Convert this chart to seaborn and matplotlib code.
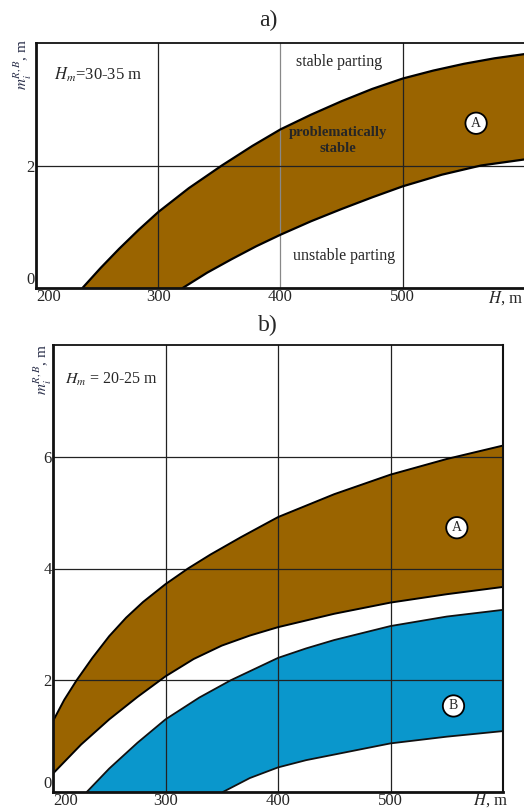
import numpy as np
import matplotlib
matplotlib.use("Agg")
import matplotlib.pyplot as plt
import seaborn as sns

# panel a) H_m = 30-35 m
a_upper_H = [238, 253, 268, 284, 300, 325, 352, 377, 400, 425, 450, 475, 500, 525, 550, 575, 600]
a_upper_m = [0.0, 0.33, 0.64, 0.95, 1.24, 1.63, 2.0, 2.32, 2.59, 2.83, 3.05, 3.25, 3.42, 3.55, 3.66, 3.75, 3.82]
a_lower_H = [320, 340, 360, 380, 400, 425, 450, 475, 500, 532, 564, 600]
a_lower_m = [0.0, 0.25, 0.47, 0.68, 0.87, 1.09, 1.29, 1.48, 1.66, 1.85, 2.0, 2.1]

# panel b) H_m = 20-25 m, zone A (brown)
bA_upper_H = [200, 210, 221, 235, 250, 265, 280, 300, 320, 340, 367, 400, 450, 500, 550, 600]
bA_upper_m = [1.27, 1.65, 2.0, 2.4, 2.79, 3.12, 3.4, 3.72, 4.0, 4.25, 4.56, 4.92, 5.33, 5.68, 5.96, 6.2]
bA_lower_H = [200, 225, 250, 275, 300, 325, 350, 375, 400, 450, 500, 550, 600]
bA_lower_m = [0.33, 0.85, 1.3, 1.7, 2.07, 2.38, 2.62, 2.8, 2.95, 3.19, 3.39, 3.54, 3.67]

# zone B (blue)
bB_upper_H = [230, 250, 275, 300, 330, 358, 400, 425, 450, 500, 550, 600]
bB_upper_m = [0.0, 0.42, 0.88, 1.3, 1.69, 2.0, 2.4, 2.57, 2.72, 2.97, 3.14, 3.26]
bB_lower_H = [351, 375, 400, 425, 450, 500, 550, 600]
bB_lower_m = [0.0, 0.25, 0.44, 0.57, 0.67, 0.87, 0.99, 1.09]

brown = "#9a6400"
blue = "#0a97cc"

sns.set_style("white")
plt.rcParams["font.family"] = ["Liberation Serif", "DejaVu Serif"]
plt.rcParams["mathtext.fontset"] = "stix"

fig = plt.figure(figsize=(5.24, 8.08), dpi=100)
ax1 = fig.add_axes([36 / 524, 1 - 288 / 808, 489 / 524, 245 / 808])
ax2 = fig.add_axes([53 / 524, 1 - 792 / 808, 450 / 524, 447 / 808])


def band(ax, uh, um, lh, lm, color):
    xs = list(uh) + list(lh)[::-1]
    ys = list(um) + list(lm)[::-1]
    ax.fill(xs, ys, color=color, lw=0, zorder=1)


def style(ax, ymax, yticks, hlines, right=True, vcolors=None):
    ax.set_xlim(200, 600)
    ax.set_ylim(0, ymax)
    ax.set_xticks([200, 300, 400, 500])
    ax.set_xticklabels(["200", "300", "400", "500"])
    ax.set_yticks(yticks)
    ax.set_yticklabels([str(t) for t in yticks])
    ax.tick_params(length=0, labelsize=12, pad=1)
    ax.get_xticklabels()[0].set_horizontalalignment("left")
    ax.get_yticklabels()[0].set_verticalalignment("bottom")
    vcolors = vcolors or ["#222222"] * 3
    for v, c in zip([300, 400, 500], vcolors):
        ax.axvline(v, color=c, lw=0.9, zorder=2)
    for h in hlines:
        ax.axhline(h, color="#222222", lw=0.9, zorder=2)
    ax.spines["left"].set_linewidth(2)
    ax.spines["bottom"].set_linewidth(2)
    ax.spines["top"].set_linewidth(1.3)
    ax.spines["right"].set_linewidth(1.5)
    ax.spines["right"].set_visible(right)
    for s in ax.spines.values():
        s.set_color("#111111")
        s.set_zorder(5)
    ax.set_xlabel("")
    ax.set_ylabel("")


circle = dict(boxstyle="circle,pad=0.3", fc="white", ec="black", lw=1.3)

# --- a)
band(ax1, a_upper_H, a_upper_m, a_lower_H, a_lower_m, brown)
sns.lineplot(x=a_upper_H, y=a_upper_m, color="black", lw=1.6, sort=False, ax=ax1, zorder=3)
sns.lineplot(x=a_lower_H, y=a_lower_m, color="black", lw=1.6, sort=False, ax=ax1, zorder=3)
style(ax1, 4, [0, 2], [2], right=False, vcolors=["#222222", "#888888", "#222222"])

ax1.text(215, 3.48, "$H_m$=30-35 m", fontsize=12, va="center", ha="left")
ax1.text(448, 3.69, "stable parting", fontsize=11.5, ha="center", va="center")
ax1.text(447, 2.41, "problematically\nstable", fontsize=10.5, fontweight="bold",
         ha="center", va="center", linespacing=1.3, zorder=4)
ax1.text(452, 0.52, "unstable parting", fontsize=11.5, ha="center", va="center")
ax1.text(560, 2.69, "A", fontsize=10, ha="center", va="center", zorder=4, bbox=circle)

# --- b)
band(ax2, bA_upper_H, bA_upper_m, bA_lower_H, bA_lower_m, brown)
band(ax2, bB_upper_H, bB_upper_m, bB_lower_H, bB_lower_m, blue)
for xs, ys in [(bA_upper_H, bA_upper_m), (bA_lower_H, bA_lower_m)]:
    sns.lineplot(x=xs, y=ys, color="black", lw=1.4, sort=False, ax=ax2, zorder=3)
for xs, ys in [(bB_upper_H, bB_upper_m), (bB_lower_H, bB_lower_m)]:
    sns.lineplot(x=xs, y=ys, color="#111111", lw=1.3, sort=False, ax=ax2, zorder=3)
style(ax2, 8, [0, 2, 4, 6], [2, 4, 6], right=True)

ax2.text(211, 7.38, "$H_m$ = 20-25 m", fontsize=11.5, va="center", ha="left")
ax2.text(559, 4.73, "A", fontsize=10, ha="center", va="center", zorder=4, bbox=circle)
ax2.text(556, 1.54, "B", fontsize=10, ha="center", va="center", zorder=4, bbox=circle)

# titles, axis names
fig.text(268 / 524, 1 - 20 / 808, "a)", fontsize=17, ha="center", va="center")
fig.text(268 / 524, 1 - 325 / 808, "b)", fontsize=17, ha="center", va="center")
fig.text(23 / 524, 1 - 64 / 808, "$m_i^{R,B}$, m", rotation=90, fontsize=11,
         ha="center", va="center", color="#2a2f4a")
fig.text(43 / 524, 1 - 369 / 808, "$m_i^{R,B}$, m", rotation=90, fontsize=11,
         ha="center", va="center", color="#2a2f4a")
fig.text(523 / 524, 1 - 298 / 808, "$H$, m", fontsize=12, ha="right", va="center")
fig.text(508 / 524, 1 - 800 / 808, "$H$, m", fontsize=12, ha="right", va="center")

fig.savefig("out.png", dpi=100)
